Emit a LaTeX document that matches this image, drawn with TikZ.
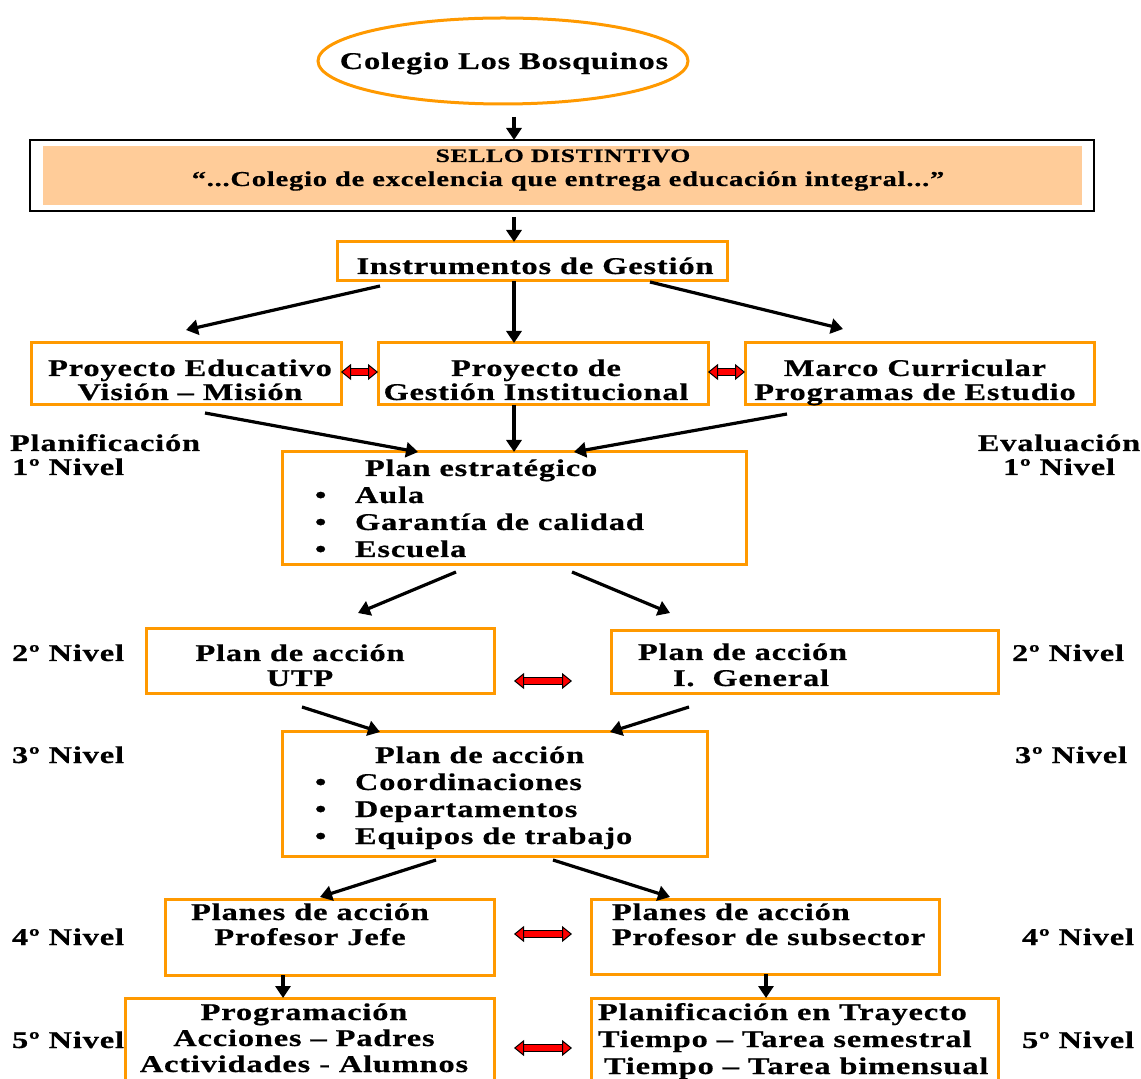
\documentclass[tikz,border=0pt]{standalone}
\usepackage{fontspec}
\setmainfont{Liberation Serif}[UprightFont=* Bold, BoldFont=* Bold, FakeStretch=1.35, LetterSpace=3.5, FakeBold=0.6]
\usetikzlibrary{arrows.meta,shapes.geometric,calc}
\definecolor{orng}{HTML}{FF9900}
\definecolor{peach}{HTML}{FFCC99}
\newcommand\fs{\fontsize{12}{12.5}\selectfont}
\newcommand\tabC[1]{\begin{tabular}[t]{@{}c@{}}#1\end{tabular}}
\newcommand\tabL[1]{\begin{tabular}[t]{@{}l@{}}#1\end{tabular}}
\newcommand\bulitem{\makebox[20pt][l]{•}}
\tikzset{
  box/.style={draw=orng, line width=1.5pt, rectangle, inner sep=0pt, outer sep=0pt},
  txt/.style={inner sep=0pt, outer sep=0pt, font=\fs},
  arr/.style={draw=black, line width=1.6pt, -{Triangle[length=6pt,width=7.5pt]}},
  redarr/.style={draw=red, line width=2.6pt,
    {Triangle[length=5pt,width=8pt,fill=red,color=black,line width=0.5pt]}-{Triangle[length=5pt,width=8pt,fill=red,color=black,line width=0.5pt]},
    preaction={draw=black, line width=3.8pt, arrows=-, shorten <=4pt, shorten >=4pt}}
}
\begin{document}
\begin{tikzpicture}[x=0.5pt,y=-0.5pt]
\useasboundingbox (0,0) rectangle (1141,1079);
\clip (0,0) rectangle (1141,1079);

% top ellipse
\node[ellipse, draw=orng, line width=1.5pt, minimum width=185pt, minimum height=43pt, inner sep=0pt, outer sep=0pt] (ell) at (503,61) {};
\node[txt, anchor=base] (ellT) at (504,69) {Colegio Los Bosquinos};

% sello
\node[draw=black, line width=0.7pt, minimum width=532pt, minimum height=35.5pt, inner sep=0pt, outer sep=0pt] (sello) at (562,175.5) {};
\node[fill=peach, minimum width=519.5pt, minimum height=29.5pt, inner sep=0pt] (selloin) at (562.5,175.5) {};
\node[txt, anchor=base, font=\fontsize{9.5}{10}\selectfont] (selloA) at (563,162) {SELLO DISTINTIVO};
\node[txt, anchor=base, font=\fontsize{10.6}{12}\selectfont] (selloB) at (568,186) {“...Colegio de excelencia que entrega educación integral...”};

% boxes
\node[box, minimum width=195pt, minimum height=19.5pt] (inst) at (532,261.5) {};
\node[box, minimum width=155pt, minimum height=31pt] (pe) at (186,374) {};
\node[box, minimum width=165pt, minimum height=31pt] (pg) at (543,374) {};
\node[box, minimum width=174.5pt, minimum height=31pt] (mc) at (919.5,374) {};
\node[box, minimum width=232pt, minimum height=56.5pt] (ps) at (514,508.5) {};
\node[box, minimum width=174pt, minimum height=32.5pt] (u) at (320,661.5) {};
\node[box, minimum width=193.5pt, minimum height=31.5pt] (ig) at (804.5,662.5) {};
\node[box, minimum width=212.5pt, minimum height=62pt] (p3) at (494.5,794) {};
\node[box, minimum width=164.5pt, minimum height=38pt] (pj) at (329.5,937) {};
\node[box, minimum width=174pt, minimum height=37.5pt] (psub) at (765,936.5) {};
\node[box, minimum width=184.5pt, minimum height=42pt] (prog) at (309.5,1040) {};
\node[box, minimum width=203.5pt, minimum height=42pt] (pt) at (794.5,1040) {};

% texts
\node[txt, anchor=base] (instT) at (535,274) {Instrumentos de Gestión};
\node[txt, anchor=base, font=\fontsize{12}{12}\selectfont] (peT) at (190,376) {\tabC{Proyecto Educativo\\Visión – Misión}};
\node[txt, anchor=base, font=\fontsize{12}{12}\selectfont] (pgT) at (536,376) {\tabC{Proyecto de\\Gestión Institucional}};
\node[txt, anchor=base, font=\fontsize{12}{12}\selectfont] (mcT) at (915,376) {\tabC{Marco Curricular\\Programas de Estudio}};
\node[txt, anchor=base west, font=\fontsize{12}{13.5}\selectfont] (psT) at (315,476) {\tabL{\hspace*{25pt}Plan estratégico\\\bulitem Aula\\\bulitem Garantía de calidad\\\bulitem Escuela}};
\node[txt, anchor=base] (uT) at (300,661) {\tabC{Plan de acción\\UTP}};
\node[txt, anchor=base west, font=\fontsize{12}{13}\selectfont] (igT) at (638,660) {\tabL{Plan de acción\\\hspace*{17.5pt}I.\ \ General}};
\node[txt, anchor=base west, font=\fontsize{12}{13.5}\selectfont] (p3T) at (315,763) {\tabL{\hspace*{30pt}Plan de acción\\\bulitem Coordinaciones\\\bulitem Departamentos\\\bulitem Equipos de trabajo}};
\node[txt, anchor=base] (pjT) at (310,920) {\tabC{Planes de acción\\Profesor Jefe}};
\node[txt, anchor=base west] (psubT) at (612,920) {\tabL{Planes de acción\\Profesor de subsector}};
\node[txt, anchor=base, font=\fontsize{12}{13}\selectfont] (progT) at (304,1020) {\tabC{Programación\\Acciones – Padres\\Actividades - Alumnos}};
\node[txt, anchor=base west, font=\fontsize{12}{13.5}\selectfont] (ptT) at (598,1020) {\tabL{Planificación en Trayecto\\Tiempo – Tarea semestral\\\hspace*{3pt}Tiempo – Tarea bimensual}};

% level labels
\node[txt, anchor=base west, font=\fontsize{12}{12}\selectfont] (lab1) at (10,451) {\tabL{Planificación\\\hspace*{1pt}1º Nivel}};
\node[txt, anchor=base, font=\fontsize{12}{12}\selectfont] (lab1r) at (1059,451) {\tabC{Evaluación\\1º Nivel}};
\node[txt, anchor=base west] (lab2) at (12,661) {2º Nivel};
\node[txt, anchor=base west] (lab2r) at (1012,661) {2º Nivel};
\node[txt, anchor=base west] (lab3) at (12,763) {3º Nivel};
\node[txt, anchor=base west] (lab3r) at (1015,763) {3º Nivel};
\node[txt, anchor=base west] (lab4) at (12,945) {4º Nivel};
\node[txt, anchor=base west] (lab4r) at (1022,945) {4º Nivel};
\node[txt, anchor=base west] (lab5) at (12,1048) {5º Nivel};
\node[txt, anchor=base west] (lab5r) at (1022,1048) {5º Nivel};

% black arrows
\draw[arr] ([shift={(11,13)}]ell.south) -- ([shift={(-48,0)}]sello.north);
\draw[arr] ([shift={(-48,6)}]sello.south) -- ([shift={(-18,0)}]inst.north);
\draw[arr] ([shift={(-152,5)}]inst.south) -- ([shift={(0,-13)}]pe.north);
\draw[arr] ([shift={(-18,0)}]inst.south) -- ([shift={(-29,0)}]pg.north);
\draw[arr] ([shift={(118,1)}]inst.south) -- ([shift={(-76.5,-14)}]mc.north);
\draw[arr] ([shift={(19,8)}]pe.south) -- ([shift={(-96,0)}]ps.north);
\draw[arr] ([shift={(-29,0)}]pg.south) -- (ps.north);
\draw[arr] ([shift={(-132.5,9)}]mc.south) -- ([shift={(60,0)}]ps.north);
\draw[arr] ([shift={(-58,7)}]ps.south) -- ([shift={(38,-16)}]u.north);
\draw[arr] ([shift={(58,7)}]ps.south) -- ([shift={(-134.5,-18)}]ig.north);
\draw[arr] ([shift={(-18,13)}]u.south) -- ([shift={(-114.5,0)}]p3.north);
\draw[arr] ([shift={(-115.5,13)}]ig.south) -- ([shift={(115.5,0)}]p3.north);
\draw[arr] ([shift={(-58.5,4)}]p3.south) -- ([shift={(-9.5,-2)}]pj.north);
\draw[arr] ([shift={(58.5,4)}]p3.south) -- ([shift={(-95,-2)}]psub.north);
\draw[arr] ([shift={(-46.5,0)}]pj.south) -- ([shift={(-26.5,0)}]prog.north);
\draw[arr] ([shift={(1,0)}]psub.south) -- ([shift={(-28.5,0)}]pt.north);

% red double arrows
\draw[redarr] ([shift={(0,-2)}]pe.east) -- ([shift={(0,-2)}]pg.west);
\draw[redarr] ([shift={(0,-2)}]pg.east) -- ([shift={(0,-2)}]mc.west);
\draw[redarr] ([shift={(20,19.5)}]u.east) -- ([shift={(-39,18.5)}]ig.west);
\draw[redarr] ([shift={(20,-3)}]pj.east) -- ([shift={(-19,-2.5)}]psub.west);
\draw[redarr] ([shift={(20,8)}]prog.east) -- ([shift={(-19,8)}]pt.west);
\end{tikzpicture}
\end{document}
